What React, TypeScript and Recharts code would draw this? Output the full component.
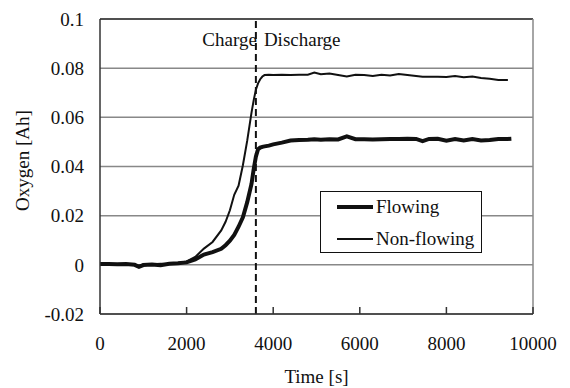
import { LineChart, Line, XAxis, YAxis, CartesianGrid, ReferenceLine } from 'recharts';

const times = [
  0, 200, 400, 600, 800, 900, 1000, 1200, 1400, 1600, 1800, 2000, 2200, 2400, 2600, 2800, 2900, 3000,
  3100, 3200, 3300, 3400, 3500, 3550, 3600, 3650, 3700, 3750, 3800, 3900, 4000, 4200, 4400, 4600, 4800,
  4950, 5100, 5300, 5500, 5700, 5900, 6100, 6300, 6500, 6700, 6900, 7100, 7300, 7450, 7600, 7800, 8000,
  8200, 8400, 8600, 8800, 9000, 9200, 9420, 9500,
];

const flowing = [
  0.0003, 0.0003, 0.0002, 0.0003, 0.0, -0.0008, -0.0001, 0.0001, -0.0002, 0.0004, 0.0006, 0.001, 0.0022,
  0.0042, 0.0052, 0.0065, 0.008, 0.0098, 0.0122, 0.0155, 0.0193, 0.0255, 0.033, 0.039, 0.044, 0.047, 0.0477,
  0.048, 0.0482, 0.0485, 0.049, 0.0497, 0.0506, 0.0508, 0.0509, 0.0511, 0.0509, 0.0511, 0.051, 0.0523,
  0.0511, 0.0511, 0.051, 0.0511, 0.0512, 0.0512, 0.0513, 0.0512, 0.0503, 0.0512, 0.0513, 0.0505, 0.0512,
  0.0506, 0.0512, 0.0506, 0.0508, 0.0512, 0.0512, 0.0513,
];

const nonFlowing = [
  0.0003, 0.0002, 0.0002, 0.0001, 0.0, -0.0004, 0.0001, 0.0002, 0.0004, 0.0003, 0.0008, 0.0014, 0.0032,
  0.0066, 0.0093, 0.014, 0.0175, 0.0222, 0.0285, 0.0322, 0.0405, 0.0505, 0.062, 0.067, 0.0712, 0.0738,
  0.0755, 0.0766, 0.0772, 0.0773, 0.0772, 0.0773, 0.0772, 0.0773, 0.0773, 0.0782, 0.0775, 0.0778, 0.0772,
  0.0766, 0.0773, 0.0772, 0.0768, 0.0773, 0.077, 0.0776, 0.0772, 0.0768, 0.0765, 0.0765, 0.0765, 0.0764,
  0.0768, 0.0763, 0.0766, 0.076, 0.0757, 0.0752, 0.0752, null,
];

const xTicks = [0, 2000, 4000, 6000, 8000, 10000];
const yTicks = [-0.02, 0, 0.02, 0.04, 0.06, 0.08, 0.1];
const switchTime = 3600;
const seriesNames = ['Flowing', 'Non-flowing'];

const data = times.map((t, i) => ({ time: t, flowing: flowing[i], nonFlowing: nonFlowing[i] }));

const font = 'Liberation Serif';
const ink = '#111';
const tickStyle = { fontFamily: font, fontSize: 19, fill: ink };

const LegendBox = () => (
  <div
    style={{
      position: 'absolute',
      left: 320,
      top: 191,
      width: 160,
      height: 60,
      border: '1px solid #111',
      background: '#fff',
      fontFamily: font,
      fontSize: 19,
      color: ink,
    }}
  >
    {seriesNames.map((name, i) => (
      <div key={name} style={{ position: 'absolute', left: 16, top: 3 + i * 32, display: 'flex', alignItems: 'center', height: 24 }}>
        <div style={{ width: 36, height: i === 0 ? 4 : 2, background: ink }} />
        <span style={{ marginLeft: 3, lineHeight: '24px', whiteSpace: 'nowrap' }}>{name}</span>
      </div>
    ))}
  </div>
);

const PhaseLabel = (props: any) => {
  const { x, y } = props.viewBox;
  return (
    <g fontFamily={font} fontSize={19} fill={ink}>
      <text x={x + 1} y={y + 27} textAnchor="end">Charge</text>
      <text x={x + 8} y={y + 27} textAnchor="start">Discharge</text>
    </g>
  );
};

export default function App() {
  return (
    <div style={{ position: 'absolute', left: 0, top: 0, width: 570, height: 388, background: '#fff', fontFamily: font }}>
      <LineChart width={570} height={388} data={data} margin={{ top: 19, right: 37, bottom: 0, left: 0 }} style={{ fontFamily: font }}>
        <CartesianGrid vertical={false} stroke="#888" strokeWidth={1.5} />
        <XAxis
          dataKey="time"
          type="number"
          domain={[0, 10000]}
          ticks={xTicks}
          stroke="#333"
          strokeWidth={1.5}
          tickSize={-7}
          tickMargin={30}
          height={74}
          tick={tickStyle}
          label={{ value: 'Time [s]', position: 'insideBottom', offset: 5, style: tickStyle }}
        />
        <YAxis
          type="number"
          domain={[-0.02, 0.1]}
          ticks={yTicks}
          width={100}
          stroke="#333"
          strokeWidth={1.5}
          tickLine={false}
          tickSize={0}
          tickMargin={16}
          tick={tickStyle}
          label={{ value: 'Oxygen [Ah]', angle: -90, position: 'center', dx: -28, dy: -6, style: tickStyle }}
        />
        <ReferenceLine y={0.1} stroke="#333" strokeWidth={1.5} />
        <ReferenceLine x={10000} stroke="#888" strokeWidth={1.5} />
        <ReferenceLine x={switchTime} stroke={ink} strokeWidth={2} strokeDasharray="7 4" label={<PhaseLabel />} />
        <Line type="linear" dataKey="flowing" name={seriesNames[0]} stroke={ink} strokeWidth={4} dot={false} isAnimationActive={false} />
        <Line type="linear" dataKey="nonFlowing" name={seriesNames[1]} stroke={ink} strokeWidth={2} dot={false} isAnimationActive={false} />
      </LineChart>
      <LegendBox />
    </div>
  );
}
